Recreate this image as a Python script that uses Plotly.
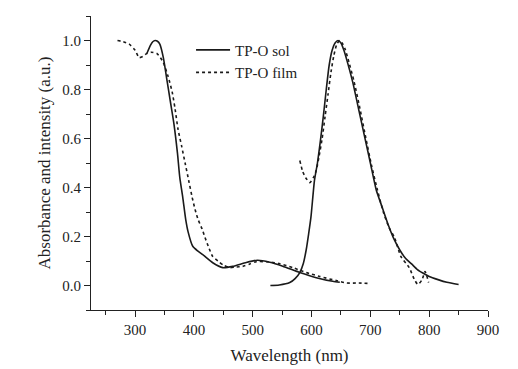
import plotly.graph_objects as go

# Absorbance, solution (solid)
abs_sol_x = [320, 326, 330, 334, 338, 342, 348, 354, 360, 366, 372, 376, 381, 386, 390, 398,
             407, 415, 432, 449, 466, 489, 508, 529, 551, 580, 608, 636, 648]
abs_sol_y = [0.947, 0.98, 0.995, 1.0, 0.997, 0.985, 0.93, 0.84, 0.75, 0.66, 0.54, 0.44, 0.36,
             0.27, 0.22, 0.16, 0.14, 0.126, 0.093, 0.073, 0.078, 0.094, 0.103, 0.095, 0.079,
             0.053, 0.032, 0.017, 0.013]

# Absorbance, film (dotted)
abs_film_x = [270, 280, 290, 300, 307, 313, 320, 328, 337, 343, 348, 356, 363, 368, 373, 379,
              385, 391, 397, 402, 407, 414, 419, 426, 432, 441, 450, 461, 470, 483, 495, 506,
              523, 545, 568, 591, 614, 642, 660, 680, 700]
abs_film_y = [1.0, 0.995, 0.985, 0.96, 0.93, 0.935, 0.947, 0.952, 0.947, 0.93, 0.91, 0.854,
              0.79, 0.72, 0.637, 0.57, 0.5, 0.43, 0.36, 0.31, 0.27, 0.23, 0.195, 0.15, 0.118,
              0.1, 0.083, 0.073, 0.075, 0.078, 0.088, 0.097, 0.097, 0.09, 0.073, 0.053, 0.037,
              0.02, 0.01, 0.01, 0.008]

# Emission, solution (solid)
pl_sol_x = [530, 545, 563, 572, 580, 586, 591, 595, 599, 605, 610, 615, 620, 625, 630, 635,
            640, 645, 650, 655, 660, 670, 680, 690, 700, 710, 720, 730, 740, 750, 760, 770,
            780, 790, 800, 815, 830, 850]
pl_sol_y = [0.0, 0.002, 0.012, 0.028, 0.053, 0.09, 0.147, 0.21, 0.28, 0.43, 0.5, 0.59, 0.69,
            0.8, 0.9, 0.96, 0.99, 1.0, 0.99, 0.96, 0.92, 0.83, 0.72, 0.61, 0.5, 0.39, 0.32,
            0.25, 0.19, 0.145, 0.11, 0.088, 0.065, 0.05, 0.037, 0.024, 0.013, 0.004]

# Emission, film (dotted)
pl_film_x = [580, 585, 590, 597, 603, 608, 613, 618, 623, 628, 633, 638, 643, 648, 652, 657,
             662, 672, 682, 692, 702, 712, 722, 732, 741, 752, 766, 775, 781, 788, 793, 799]
pl_film_y = [0.51, 0.465, 0.44, 0.42, 0.44, 0.47, 0.53, 0.6, 0.69, 0.78, 0.87, 0.94, 0.985,
             1.0, 0.99, 0.965, 0.925, 0.835, 0.725, 0.605, 0.49, 0.39, 0.3, 0.235, 0.196,
             0.118, 0.073, 0.024, 0.004, 0.024, 0.057, 0.012]

x_ticks = [300, 400, 500, 600, 700, 800, 900]
y_ticks = [0.0, 0.2, 0.4, 0.6, 0.8, 1.0]

ink = "#1a1a1a"
dotted = "3px,3px"
fig = go.Figure()
fig.add_trace(go.Scatter(x=abs_sol_x, y=abs_sol_y, mode="lines", name="TP-O sol",
                         line=dict(color=ink, width=1.6, shape="spline", smoothing=0.6),
                         legendgroup="sol"))
fig.add_trace(go.Scatter(x=abs_film_x, y=abs_film_y, mode="lines", name="TP-O film",
                         line=dict(color=ink, width=1.6, dash=dotted, shape="spline", smoothing=0.6),
                         legendgroup="film"))
fig.add_trace(go.Scatter(x=pl_sol_x, y=pl_sol_y, mode="lines", name="TP-O sol",
                         line=dict(color=ink, width=1.6, shape="spline", smoothing=0.6),
                         legendgroup="sol", showlegend=False))
fig.add_trace(go.Scatter(x=pl_film_x, y=pl_film_y, mode="lines", name="TP-O film",
                         line=dict(color=ink, width=1.6, dash=dotted, shape="spline", smoothing=0.6),
                         legendgroup="film", showlegend=False))

font = dict(family="Liberation Serif, Times New Roman, serif", size=15, color="#222")
# page body has an 8px default margin, so the figure is sized/offset to compensate
fig.update_layout(
    width=510, height=361,
    margin=dict(l=83, r=30, t=8, b=59),
    paper_bgcolor="white", plot_bgcolor="white",
    font=font,
    showlegend=True,
    legend=dict(x=0.252, y=0.94, xanchor="left", yanchor="top",
                bgcolor="rgba(0,0,0,0)", font=dict(size=15), tracegroupgap=0,
                itemwidth=34),
    xaxis=dict(range=[225, 900], tickvals=x_ticks, ticks="outside", ticklen=6, tickwidth=1.2,
               tickcolor="#222", showline=True, linecolor="#222", linewidth=1.2,
               showgrid=False, zeroline=False,
               minor=dict(dtick=50, tick0=250, ticks="outside", ticklen=4, tickcolor="#222",
                          tickwidth=1.0, showgrid=False),
               title=dict(text="Wavelength (nm)", standoff=12, font=dict(size=17))),
    yaxis=dict(range=[-0.1, 1.1], tickvals=y_ticks, tickformat=".1f", ticks="outside",
               ticklen=6, tickwidth=1.2, tickcolor="#222", showline=True, linecolor="#222",
               linewidth=1.2, showgrid=False, zeroline=False,
               minor=dict(dtick=0.1, tick0=0.1, ticks="outside", ticklen=4, tickcolor="#222",
                          tickwidth=1.0, showgrid=False),
               title=dict(text="Absorbance and intensity (a.u.)", standoff=7, font=dict(size=17))),
)

fig.write_html("out.html")
